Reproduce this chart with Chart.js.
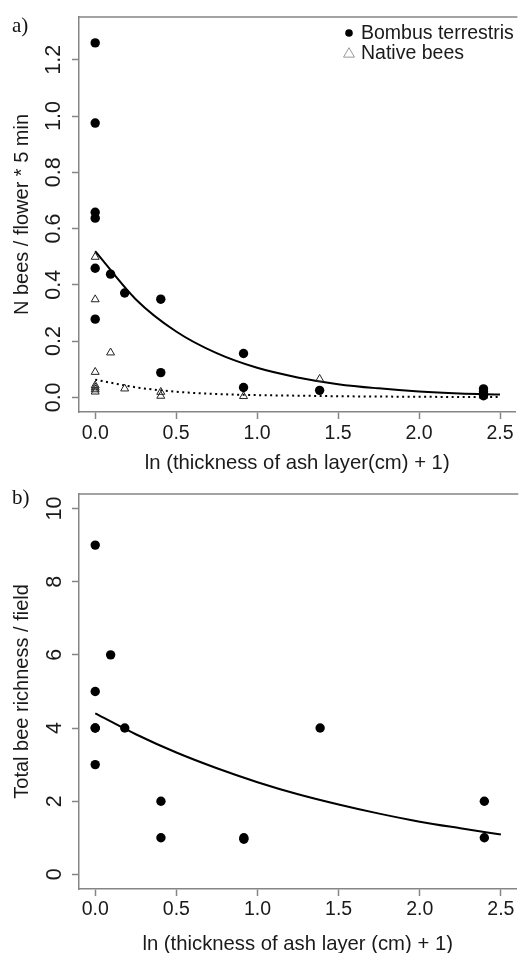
<!DOCTYPE html>
<html><head><meta charset="utf-8">
<script src="https://cdn.jsdelivr.net/npm/chart.js@4.4.1/dist/chart.umd.min.js"></script>
<style>
html,body{margin:0;padding:0;background:#fff;}
body{width:521px;height:953px;position:relative;overflow:hidden;}
.panel{position:absolute;left:0;width:521px;}
#pa{top:0;height:476px;}
#pb{top:476px;height:477px;}
.lab{position:absolute;left:12px;font-family:"Liberation Serif","Times New Roman",serif;font-size:21px;line-height:21px;color:#111;}
</style></head><body>
<div class="panel" id="pa"><canvas id="ca"></canvas></div>
<div class="panel" id="pb"><canvas id="cb"></canvas></div>
<div class="lab" style="top:15px">a)</div>
<div class="lab" style="top:487px">b)</div>
<script>
// ---- data ----
const xTickValues = [0, 0.5, 1, 1.5, 2, 2.5];
const xTickLabels = ['0.0', '0.5', '1.0', '1.5', '2.0', '2.5'];
const yTickValuesA = [0, 0.2, 0.4, 0.6, 0.8, 1.0, 1.2];
const yTickLabelsA = ['0.0', '0.2', '0.4', '0.6', '0.8', '1.0', '1.2'];
const yTickValuesB = [0, 2, 4, 6, 8, 10];
const yTickLabelsB = ['0', '2', '4', '6', '8', '10'];

const bombusX = [0, 0, 0, 0, 0, 0, 0.095, 0.182, 0.405, 0.405, 0.916, 0.916, 1.386, 2.398, 2.398, 2.398, 2.398];
const bombusY = [1.26, 0.975, 0.658, 0.637, 0.459, 0.278, 0.438, 0.371, 0.349, 0.088, 0.156, 0.035, 0.025, 0.03, 0.02, 0.012, 0.006];

const nativeX = [0, 0, 0, 0, 0, 0, 0, 0.095, 0.182, 0.405, 0.405, 0.916, 1.386, 2.398];
const nativeY = [0.499, 0.348, 0.09, 0.042, 0.035, 0.028, 0.02, 0.159, 0.031, 0.019, 0.005, 0.004, 0.065, 0.005];

const fitX = [0, 0.25, 0.5, 0.75, 1, 1.25, 1.5, 1.75, 2, 2.25, 2.5];
const bombusFit = [0.52, 0.349, 0.234, 0.157, 0.105, 0.071, 0.047, 0.032, 0.021, 0.014, 0.010];
const nativeFit = [0.063, 0.036, 0.02, 0.012, 0.008, 0.006, 0.004, 0.003, 0.002, 0.0015, 0.001];

const richX = [0, 0, 0, 0, 0, 0.095, 0.182, 0.405, 0.405, 0.916, 0.916, 1.386, 2.398, 2.398];
const richY = [9, 5, 4, 4, 3, 6, 4, 2, 1, 1, 0.96, 4, 2, 1];
const richFit = [4.4, 3.83, 3.33, 2.9, 2.52, 2.19, 1.91, 1.66, 1.44, 1.26, 1.09];

const xTitleA = 'ln (thickness of ash layer(cm) + 1)';
const xTitleB = 'ln (thickness of ash layer (cm) + 1)';
const yTitleA = 'N bees / flower * 5 min';
const yTitleB = 'Total bee richness / field';
const seriesNames = ['Bombus terrestris', 'Native bees'];

// ---- helpers ----
const pair = (xs, ys) => xs.map((x, i) => ({x: x, y: ys[i]}));
const AXIS = '#858585';
const TXT = '#1a1a1a';
Chart.defaults.font.family = '"Liberation Sans", Arial, sans-serif';
Chart.defaults.color = TXT;

function xScale(title, labPad, titleLH, titlePad) {
  return {
    type: 'linear', min: -0.1, max: 2.595,
    afterBuildTicks: s => { s.ticks = xTickValues.map(v => ({value: v})); },
    afterFit: s => { s.height = 64; },
    ticks: {
      autoSkip: false, maxRotation: 0, minRotation: 0, padding: labPad, color: TXT,
      font: {size: 19.5},
      callback: v => xTickLabels[xTickValues.indexOf(v)]
    },
    grid: {drawOnChartArea: false, drawTicks: true, tickLength: 7, tickColor: AXIS, tickWidth: 1.5},
    border: {display: true, color: AXIS, width: 1.5},
    title: {display: true, text: title, color: TXT, font: {size: 20.3, lineHeight: titleLH}, padding: {top: 0, bottom: titlePad}}
  };
}
function yScale(title, min, max, vals, labels, labPad) {
  return {
    type: 'linear', min: min, max: max,
    afterBuildTicks: s => { s.ticks = vals.map(v => ({value: v})); },
    afterFit: s => { s.width = 79; },
    ticks: {
      autoSkip: false, minRotation: 90, maxRotation: 90, crossAlign: 'center', padding: labPad, color: TXT,
      font: {size: 21.5},
      callback: v => labels[vals.indexOf(v)]
    },
    grid: {drawOnChartArea: false, drawTicks: true, tickLength: 7, tickColor: AXIS, tickWidth: 1.5},
    border: {display: true, color: AXIS, width: 1.5},
    title: {display: true, text: title, color: TXT, font: {size: 20, lineHeight: 1}, padding: {top: 12.5, bottom: 0}}
  };
}
const topLine = {
  id: 'topLine',
  afterDraw(chart) {
    const {ctx, chartArea} = chart;
    ctx.save();
    ctx.strokeStyle = AXIS; ctx.lineWidth = 1.5;
    ctx.beginPath();
    ctx.moveTo(chartArea.left, chartArea.top);
    ctx.lineTo(chartArea.right + 2, chartArea.top);
    ctx.stroke();
    ctx.restore();
  }
};
const boxLegend = {
  id: 'boxLegend',
  afterDraw(chart) {
    const {ctx} = chart;
    const ds = chart.data.datasets;
    ctx.save();
    ctx.font = '19.5px "Liberation Sans", Arial, sans-serif';
    ctx.textBaseline = 'middle';
    ctx.textAlign = 'left';
    // filled circle
    ctx.beginPath(); ctx.arc(349, 33, 3.8, 0, Math.PI * 2); ctx.fillStyle = '#000'; ctx.fill();
    ctx.fillStyle = TXT; ctx.fillText(ds[0].label, 361, 34);
    // open triangle
    const r = 6.3, cx = 349, cy = 54;
    ctx.beginPath();
    for (let k = 0; k < 3; k++) {
      const a = k * 2 * Math.PI / 3;
      const px = cx + Math.sin(a) * r, py = cy - Math.cos(a) * r;
      if (k === 0) ctx.moveTo(px, py); else ctx.lineTo(px, py);
    }
    ctx.closePath(); ctx.strokeStyle = '#999'; ctx.lineWidth = 1; ctx.stroke();
    ctx.fillStyle = TXT; ctx.fillText(ds[1].label, 361, 54);
    ctx.restore();
  }
};

// ---- panel a ----
new Chart(document.getElementById('ca'), {
  type: 'scatter',
  data: {datasets: [
    {label: seriesNames[0], data: pair(bombusX, bombusY), pointStyle: 'circle', pointRadius: 4.7,
     backgroundColor: '#000', borderColor: '#000', borderWidth: 0},
    {label: seriesNames[1], data: pair(nativeX, nativeY), pointStyle: 'triangle', pointRadius: 4.6,
     backgroundColor: 'rgba(0,0,0,0)', borderColor: '#222', borderWidth: 1},
    {label: 'fit B. terrestris', data: pair(fitX, bombusFit), showLine: true, pointRadius: 0,
     borderColor: '#000', borderWidth: 2, cubicInterpolationMode: 'monotone', fill: false},
    {label: 'fit native', data: pair(fitX, nativeFit), showLine: true, pointRadius: 0,
     borderColor: '#000', borderWidth: 2, borderDash: [2, 3.5], cubicInterpolationMode: 'monotone', fill: false}
  ]},
  options: {
    responsive: true, maintainAspectRatio: false, animation: false, events: [],
    layout: {padding: {top: 17, left: 0, right: 0, bottom: 0}},
    plugins: {legend: {display: false}, tooltip: {enabled: false}},
    scales: {
      x: xScale(xTitleA, 3, 1, 2),
      y: yScale(yTitleA, -0.052, 1.352, yTickValuesA, yTickLabelsA, 3)
    }
  },
  plugins: [topLine, boxLegend]
});

// ---- panel b ----
new Chart(document.getElementById('cb'), {
  type: 'scatter',
  data: {datasets: [
    {label: 'Total bee richness', data: pair(richX, richY), pointStyle: 'circle', pointRadius: 4.7,
     backgroundColor: '#000', borderColor: '#000', borderWidth: 0},
    {label: 'fit richness', data: pair(fitX, richFit), showLine: true, pointRadius: 0,
     borderColor: '#000', borderWidth: 2, cubicInterpolationMode: 'monotone', fill: false}
  ]},
  options: {
    responsive: true, maintainAspectRatio: false, animation: false, events: [],
    layout: {padding: {top: 17, left: 0, right: 0, bottom: 0}},
    plugins: {legend: {display: false}, tooltip: {enabled: false}},
    scales: {
      x: xScale(xTitleB, 1.5, 0.8, 0),
      y: yScale(yTitleB, -0.4, 10.4, yTickValuesB, yTickLabelsB, 5)
    }
  },
  plugins: [topLine]
});
</script>
</body></html>
